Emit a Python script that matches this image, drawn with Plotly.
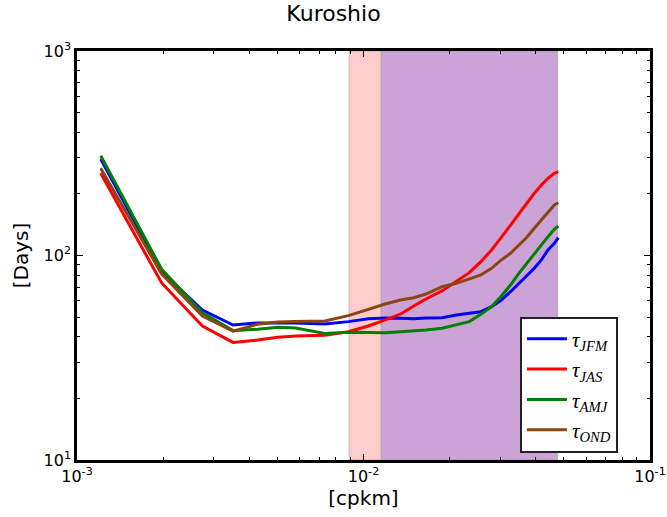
import plotly.graph_objects as go

# wavenumber grid [cpkm]
k = [0.00121, 0.001975, 0.00274, 0.003505, 0.00427, 0.005035, 0.0058, 0.00733,
     0.00886, 0.01039, 0.01192, 0.01345, 0.01498, 0.01651, 0.0188, 0.0211,
     0.0234, 0.02569, 0.02799, 0.03028, 0.03258, 0.03487, 0.03717, 0.03946,
     0.04176, 0.04405, 0.04635, 0.04788]

tau_jfm = [296.5, 83.1, 54.1, 45.7, 46.8, 46.9, 46.8, 46.2, 47.5, 49.1, 49.5, 49.3,
           49.1, 49.5, 49.6, 51.2, 52.2, 53.1, 56.2, 60.6, 66.5, 73.1, 79.4, 86.6,
           95.1, 106.4, 114.7, 122.2]
tau_jas = [252.4, 73.4, 45.2, 37.6, 38.6, 39.8, 40.4, 40.7, 42.4, 45.2, 48.4, 51.6,
           56.6, 61.3, 67.1, 74.5, 82.4, 93.3, 106.4, 122.7, 141.0, 160.8, 180.0,
           201.5, 221.2, 238.5, 252.4, 256.9]
tau_amj = [307.6, 85.6, 52.5, 42.9, 43.6, 44.6, 44.2, 41.6, 42.1, 41.9, 41.9, 42.4,
           42.7, 43.2, 44.1, 45.7, 47.5, 51.6, 56.2, 63.4, 71.7, 81.8, 91.6, 102.5,
           112.5, 123.6, 134.3, 139.4]
tau_ond = [267.0, 81.2, 50.6, 42.7, 46.1, 47.3, 47.5, 47.8, 50.8, 54.6, 57.9, 60.6,
           62.2, 64.8, 70.4, 73.1, 76.5, 80.3, 86.6, 95.1, 102.5, 112.5, 122.7, 135.8,
           149.1, 161.9, 176.6, 181.2]

series_names = ["<i>τ<sub>JFM</sub></i>", "<i>τ<sub>JAS</sub></i>",
                "<i>τ<sub>AMJ</sub></i>", "<i>τ<sub>OND</sub></i>"]
series_colors = ["#0000FF", "#FF0000", "#008000", "#8B4513"]

band_pink = [0.00891, 0.01153]
band_purple = [0.01153, 0.0476]

x_tickvals = [1e-3, 1e-2, 1e-1]
x_ticktext = ["10<sup>-3</sup>", "10<sup>-2</sup>", "10<sup>-1</sup>"]
y_tickvals = [10, 100, 1000]
y_ticktext = ["10<sup>1</sup>", "10<sup>2</sup>", "10<sup>3</sup>"]

fig = go.Figure()
for vals, name, col in zip([tau_jfm, tau_jas, tau_amj, tau_ond], series_names, series_colors):
    fig.add_trace(go.Scatter(x=k, y=vals, mode="lines", name=name,
                             line=dict(color=col, width=3)))

fig.add_shape(type="rect", xref="x", yref="paper", x0=band_pink[0], x1=band_pink[1],
              y0=0, y1=1, fillcolor="#FFCCCC", line=dict(color="rgba(150,150,150,0.5)", width=1),
              layer="below")
fig.add_shape(type="rect", xref="x", yref="paper", x0=band_purple[0], x1=band_purple[1],
              y0=0, y1=1, fillcolor="#CBA3D6", line=dict(color="rgba(150,150,150,0.5)", width=1),
              layer="below")

minor_x = [m * 10 ** e for e in (-3, -2) for m in range(2, 10)]
minor_y = [m * 10 ** e for e in (1, 2) for m in range(2, 10)]

axis_common = dict(showgrid=False, zeroline=False, showline=True, linecolor="black",
                   linewidth=2.5, mirror="allticks", ticks="inside", ticklen=6,
                   tickwidth=1.2, tickcolor="black", automargin=False,
                   tickfont=dict(size=16, color="black"))

fig.update_xaxes(type="log", range=[-3, -1], tickmode="array",
                 tickvals=x_tickvals, ticktext=x_ticktext,
                 title=dict(text="[cpkm]", font=dict(size=20, color="black"), standoff=7),
                 minor=dict(tickmode="array", tickvals=minor_x, ticks="inside", ticklen=3,
                            tickcolor="black", tickwidth=1, showgrid=False),
                 **axis_common)
fig.update_yaxes(type="log", range=[1, 3], tickmode="array",
                 tickvals=y_tickvals, ticktext=y_ticktext,
                 title=dict(text="[Days]", font=dict(size=20, color="black"), standoff=10),
                 minor=dict(tickmode="array", tickvals=minor_y, ticks="inside", ticklen=3,
                            tickcolor="black", tickwidth=1, showgrid=False),
                 **axis_common)

fig.update_layout(
    width=667, height=517,
    margin=dict(l=77, r=17, t=51, b=57),
    paper_bgcolor="white", plot_bgcolor="white",
    font=dict(family="DejaVu Sans", color="black"),
    title=dict(text="Kuroshio", x=0.5, xanchor="center", y=0.99, yanchor="top",
               font=dict(size=22, color="black")),
    legend=dict(x=0.773, y=0.018, xanchor="left", yanchor="bottom",
                bgcolor="white", bordercolor="#222222", borderwidth=2,
                font=dict(family="Liberation Serif", size=21, color="black"),
                itemwidth=40, tracegroupgap=2),
    showlegend=True,
)

fig.write_html("out.html")
